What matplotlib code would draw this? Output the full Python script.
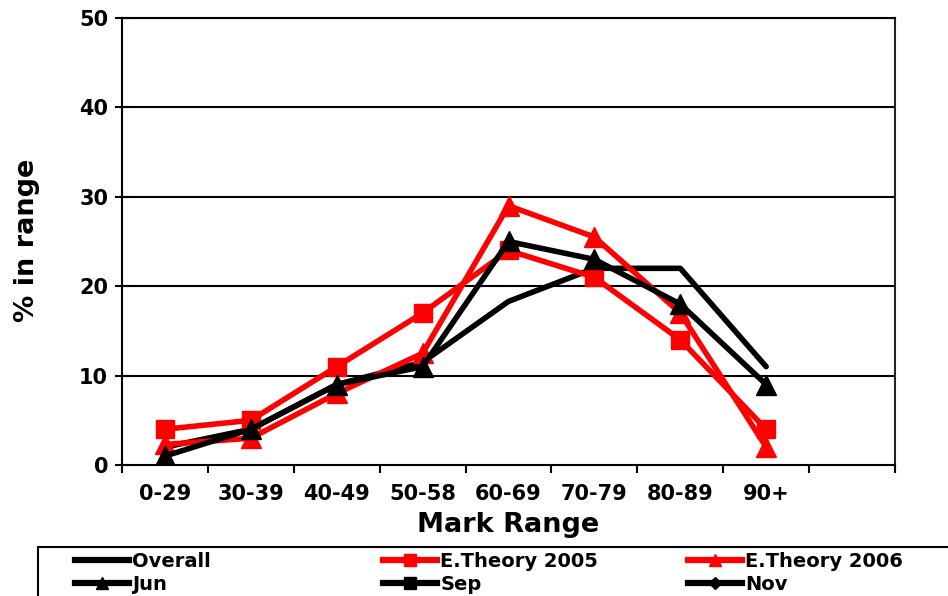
import numpy as np
import matplotlib.pyplot as plt
from matplotlib.lines import Line2D
from matplotlib.patches import Rectangle

# mark ranges (last slot on the axis is left empty)
ranges = ["0-29", "30-39", "40-49", "50-58", "60-69", "70-79", "80-89", "90+"]

overall = [2, 4, 9, 11.5, 18.3, 22, 22, 11]
theory_2005 = [4, 5, 11, 17, 24, 21, 14, 4]
theory_2006 = [2.3, 3, 8, 12.5, 29, 25.5, 17, 2]
jun = [1, 4, 9, 11, 25, 23, 18, 9]
sep = []
nov = []

plt.rcParams['font.family'] = 'DejaVu Sans'
plt.rcParams['font.weight'] = 'bold'

fig = plt.figure(figsize=(9.48, 5.96), dpi=100)
ax = fig.add_axes([0.1287, 0.2198, 0.8154, 0.7500])

x = np.arange(len(ranges)) + 0.5
lw = 4.0

ax.plot(x, overall, color='black', lw=lw, zorder=3, solid_capstyle='round')
ax.plot(x, theory_2005, color='red', lw=lw, marker='s', ms=13.5, zorder=4)
ax.plot(x, theory_2006, color='red', lw=lw, marker='^', ms=15, zorder=4)
ax.plot(x, jun, color='black', lw=lw, marker='^', ms=15, zorder=5)
ax.plot(x[:len(sep)], sep, color='black', lw=lw, marker='s', ms=13.5)
ax.plot(x[:len(nov)], nov, color='black', lw=lw, marker='D', ms=10)

ax.set_xlim(0, 9)
ax.set_ylim(0, 50)

# horizontal gridlines
for yv in [10, 20, 30, 40, 50]:
    ax.axhline(yv, color='black', lw=1.5, zorder=1)

for side in ['left', 'bottom', 'right', 'top']:
    ax.spines[side].set_linewidth(1.5)
ax.spines['right'].set_color('#222222')

ax.set_yticks([0, 10, 20, 30, 40, 50])
ax.tick_params(axis='y', direction='inout', length=10, width=1.5, labelsize=15, pad=5)
ax.set_xticks(x)
ax.set_xticklabels(ranges)
ax.set_xticks(np.arange(0, 10), minor=True)
ax.tick_params(axis='x', which='major', length=0, labelsize=15, pad=14)
ax.tick_params(axis='x', which='minor', direction='out', length=6, width=1.5)
for lab in ax.get_xticklabels() + ax.get_yticklabels():
    lab.set_fontweight('bold')

fig.text(508 / 948, 1 - 525 / 596, "Mark Range", fontsize=19.5,
         fontweight='bold', ha='center', va='center')
fig.text(27 / 948, 1 - 240 / 596, "% in range", fontsize=19.5,
         fontweight='bold', ha='center', va='center', rotation=90)

# legend: three columns of two rows inside a single frame
fig.add_artist(Rectangle((38 / 948, -0.02), 0.99, (596 - 547) / 596 + 0.02,
                         transform=fig.transFigure, fill=False,
                         edgecolor='black', lw=1.5, clip_on=False))
columns = [
    ([Line2D([], [], color='black', lw=4.5),
      Line2D([], [], color='black', lw=4.5, marker='^', ms=8)],
     ["Overall", "Jun"], 75),
    ([Line2D([], [], color='red', lw=4.5, marker='s', ms=8),
      Line2D([], [], color='black', lw=4.5, marker='s', ms=8)],
     ["E.Theory 2005", "Sep"], 383),
    ([Line2D([], [], color='red', lw=4.5, marker='^', ms=8),
      Line2D([], [], color='black', lw=4.5, marker='D', ms=6)],
     ["E.Theory 2006", "Nov"], 688),
]
for hs, ls, px in columns:
    fig.legend(hs, ls, loc='upper left', bbox_to_anchor=(px / 948, 1 - 552 / 596),
               frameon=False, handlelength=2.8, handletextpad=0.15,
               labelspacing=0.18, borderpad=0, borderaxespad=0,
               prop={'weight': 'bold', 'size': 14})

fig.savefig("out.png", dpi=100)
